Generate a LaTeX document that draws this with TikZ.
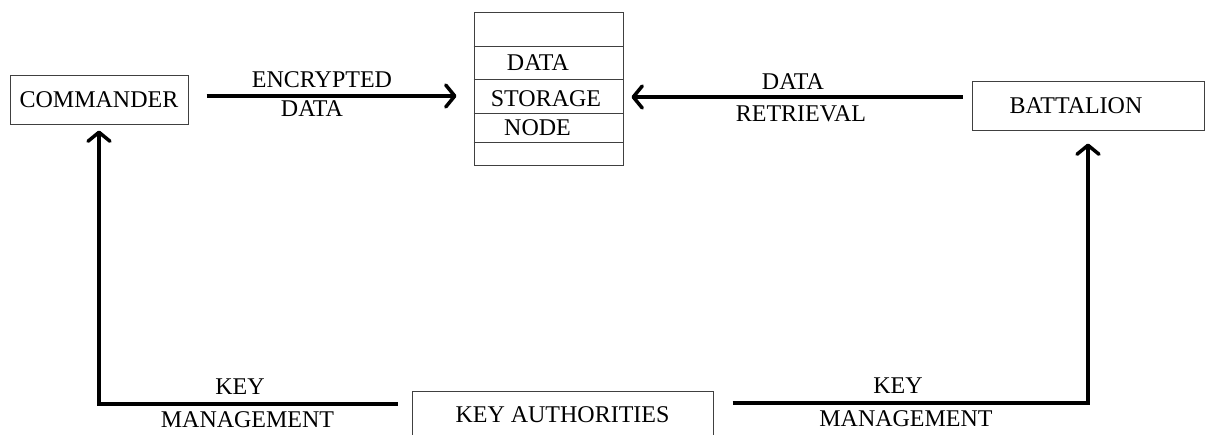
\documentclass[tikz,border=0pt]{standalone}
\usepackage{fontspec}
\setmainfont{Liberation Serif}
\usetikzlibrary{arrows.meta}

\begin{document}
\begin{tikzpicture}[x=1pt,y=-1pt,
    font=\fontsize{24}{28}\selectfont,
    box/.style={draw=black!75, line width=1pt},
    flow/.style={line width=3.5pt, -{Straight Barb[length=9pt,width=22pt,round]}}]
\useasboundingbox (0,0) rectangle (1210,434);
\node[box, minimum width=178, minimum height=49] (node) at (99,99.5){COMMANDER};
\node[box, minimum width=149, minimum height=153] (node0) at (548.5,88.5){};
\node (node00) at (538,63){DATA};
\node (node01) at (546,99){STORAGE};
\node (node02) at (537.5,128){NODE};
\node[box, minimum width=232, minimum height=49,
    label={[xshift=-12pt]center:BATTALION}] (node1) at (1088,105.5){};
\node[box, minimum width=301, minimum height=48] (node2) at (562.5,415){KEY AUTHORITIES};
\node (node10) at (322,79.5){ENCRYPTED};
\node (node11) at (312,109){DATA};
\node (node12) at (793,82){DATA};
\node (node13) at (801,114){RETRIEVAL};
\node (node20) at (240,387){KEY};
\node (node21) at (247.5,420){MANAGEMENT};
\node (node22) at (898,386){KEY};
\node (node23) at (906,419){MANAGEMENT};
\draw[box] (node0.west |- 0,46) -- (node0.east |- 0,46);
\draw[box] (node0.west |- 0,79) -- (node0.east |- 0,79);
\draw[box] (node0.west |- 0,113) -- (node0.east |- 0,113);
\draw[box] (node0.west |- 0,142) -- (node0.east |- 0,142);
\draw[flow, shorten <=18pt, shorten >=17pt] ([yshift=3.5pt]node.east) -- ([yshift=-7.5pt]node0.west);
\draw[flow, shorten <=9pt, shorten >=8pt] ([yshift=8.5pt]node1.west) -- ([yshift=-8.5pt]node0.east);
\draw[flow, shorten <=14pt, shorten >=6pt] ([yshift=11pt]node2.west) -| (node.south);
\draw[flow, shorten <=19pt, shorten >=13pt] ([yshift=12pt]node2.east) -| (node1.south);
\end{tikzpicture}
\end{document}
